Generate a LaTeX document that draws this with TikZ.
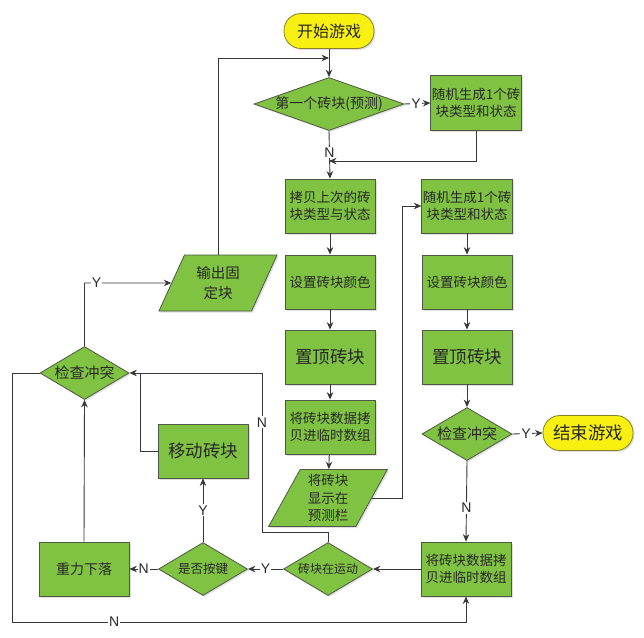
\documentclass[tikz,border=0pt]{standalone}
\usepackage{fontspec}
\setmainfont{Noto Sans CJK SC}
\newfontfamily\latinf{Liberation Sans}
\usetikzlibrary{shapes.geometric,arrows.meta,shadows}
\definecolor{gfill}{RGB}{128,194,66}
\definecolor{gdraw}{RGB}{78,88,68}
\definecolor{yfill}{RGB}{248,240,16}
\definecolor{ydraw}{RGB}{135,128,40}
\definecolor{lcol}{RGB}{56,56,56}
\definecolor{tcol}{RGB}{40,40,40}
\begin{document}
\begin{tikzpicture}[x=1pt,y=-1pt,
  base/.style={draw=gdraw, fill=gfill, line width=0.8pt, text=tcol, align=center, inner sep=1pt,
    drop shadow={shadow xshift=1.5pt,shadow yshift=-1.5pt,opacity=0.25}},
  box/.style={base, rectangle, minimum width=90pt, minimum height=54pt, font=\fontsize{13.5}{17}\selectfont},
  bigbox/.style={box, font=\fontsize{17.5}{20}\selectfont},
  dec/.style={base, diamond, aspect=1.68, minimum width=89pt, minimum height=53pt, inner sep=0pt},
  io/.style={base, trapezium, trapezium left angle=64, trapezium right angle=116, trapezium stretches=true,
    minimum width=119pt, minimum height=56pt},
  term/.style={draw=ydraw, fill=yfill, line width=0.8pt, rounded corners=17pt, minimum width=90pt, minimum height=35pt,
    text=tcol, drop shadow={shadow xshift=1.5pt,shadow yshift=-1.5pt,opacity=0.25}},
  arr/.style={draw=lcol, line width=0.9pt, -{Stealth[length=7.5pt,width=6.5pt]}},
  ln/.style={draw=lcol, line width=0.9pt},
  lbl/.style={fill=white, inner sep=1pt, font=\latinf\fontsize{14}{14}\selectfont, text=tcol}
]
\fill[white] (0,0) rectangle (644,637);
\useasboundingbox (0,0) rectangle (644,637);

% nodes
\node[term, font=\fontsize{16}{18}\selectfont] (start) at (329,31) {开始游戏};
\node[dec, aspect=2.85, minimum width=150pt, font=\fontsize{14}{16}\selectfont] (d1) at (329,104) {第一个砖块(预测)};
\node[box, minimum height=55pt] (r1) at (476,103) {随机生成1个砖\\块类型和状态};

\node[box] (b2) at (330,206) {拷贝上次的砖\\块类型与状态};
\node[box] (b3) at (330,282) {设置砖块颜色};
\node[bigbox] (b4) at (330,357) {置顶砖块};
\node[box] (b5) at (330,427) {将砖块数据拷\\贝进临时数组};
\node[io, minimum height=57pt, font=\fontsize{13.5}{17.5}\selectfont] (p2) at (328,498) {将砖块\\显示在\\预测栏};

\node[box] (r2) at (467,206) {随机生成1个砖\\块类型和状态};
\node[box] (r3) at (467,282) {设置砖块颜色};
\node[bigbox] (r4) at (467,357) {置顶砖块};
\node[dec, minimum width=90pt, font=\fontsize{15}{17}\selectfont] (d2) at (467,434) {检查冲突};
\node[term, font=\fontsize{17.5}{20}\selectfont] (end) at (588,433) {结束游戏};

\node[box] (rb) at (466,569) {将砖块数据拷\\贝进临时数组};
\node[dec, font=\fontsize{12}{14}\selectfont] (dmov) at (328,569) {砖块在运动};
\node[dec, font=\fontsize{12.5}{14}\selectfont] (dkey) at (203,569) {是否按键};
\node[box, font=\fontsize{14}{17}\selectfont] (grav) at (84,569) {重力下落};
\node[bigbox] (move) at (203,451) {移动砖块};
\node[dec, font=\fontsize{15}{17}\selectfont] (dchk) at (84.5,373) {检查冲突};
\node[io, font=\fontsize{14.5}{20}\selectfont] (p1) at (218,283) {输出固\\定块};

% helper coordinates
\coordinate (j1) at (329,58);
\coordinate (m1) at (329,161);
\coordinate (c1) at (402,206);
\coordinate (c2) at (262,532);
\coordinate (c3) at (262,373);
\coordinate (c4) at (140,373);
\coordinate (c5) at (84.5,283);
\coordinate (c7) at (12,622);

% connectors
\draw[arr] (start) -- (d1);
\draw[arr] (p1.north) |- (j1);
\draw[arr] (d1.east) -- node[lbl, pos=0.45]{Y} (r1.west);
\draw[arr] (r1.south) |- (m1);
\draw[arr] (d1.south) -- node[lbl, pos=0.45]{N} (b2.north);
\draw[arr] (b2) -- (b3);
\draw[arr] (b3) -- (b4);
\draw[arr] (b4) -- (b5);
\draw[arr] (b5) -- (p2);
\draw[arr] (p2.east) -| (c1) -- (r2.west);
\draw[arr] (r2) -- (r3);
\draw[arr] (r3) -- (r4);
\draw[arr] (r4) -- (d2);
\draw[arr] (d2.east) -- node[lbl, pos=0.45]{Y} (end.west);
\draw[arr] (d2.south) -- node[lbl, pos=0.58]{N} (rb.north);
\draw[arr] (rb.west) -- (dmov.east);
\draw[arr] (dmov.west) -- node[lbl, pos=0.5]{Y} (dkey.east);
\draw[arr] (dkey.west) -- node[lbl, pos=0.5]{N} (grav.east);
\draw[arr] (dkey.north) -- node[lbl, pos=0.5]{Y} (move.south);
\draw[arr] (grav.north) -- (dchk.south);
\draw[arr] (dmov.north) |- (c2) -- node[lbl, pos=0.69]{N} (c3) -- (dchk.east);
\draw[ln] (move.west) -| (c4);
\draw[arr] (dchk.north) -- (c5) -- node[lbl, pos=0.14]{Y} (p1.west);
\draw[arr] (dchk.west) -| (c7) -- node[lbl, pos=0.225]{N} (rb.south |- c7) -- (rb.south);
\end{tikzpicture}
\end{document}
